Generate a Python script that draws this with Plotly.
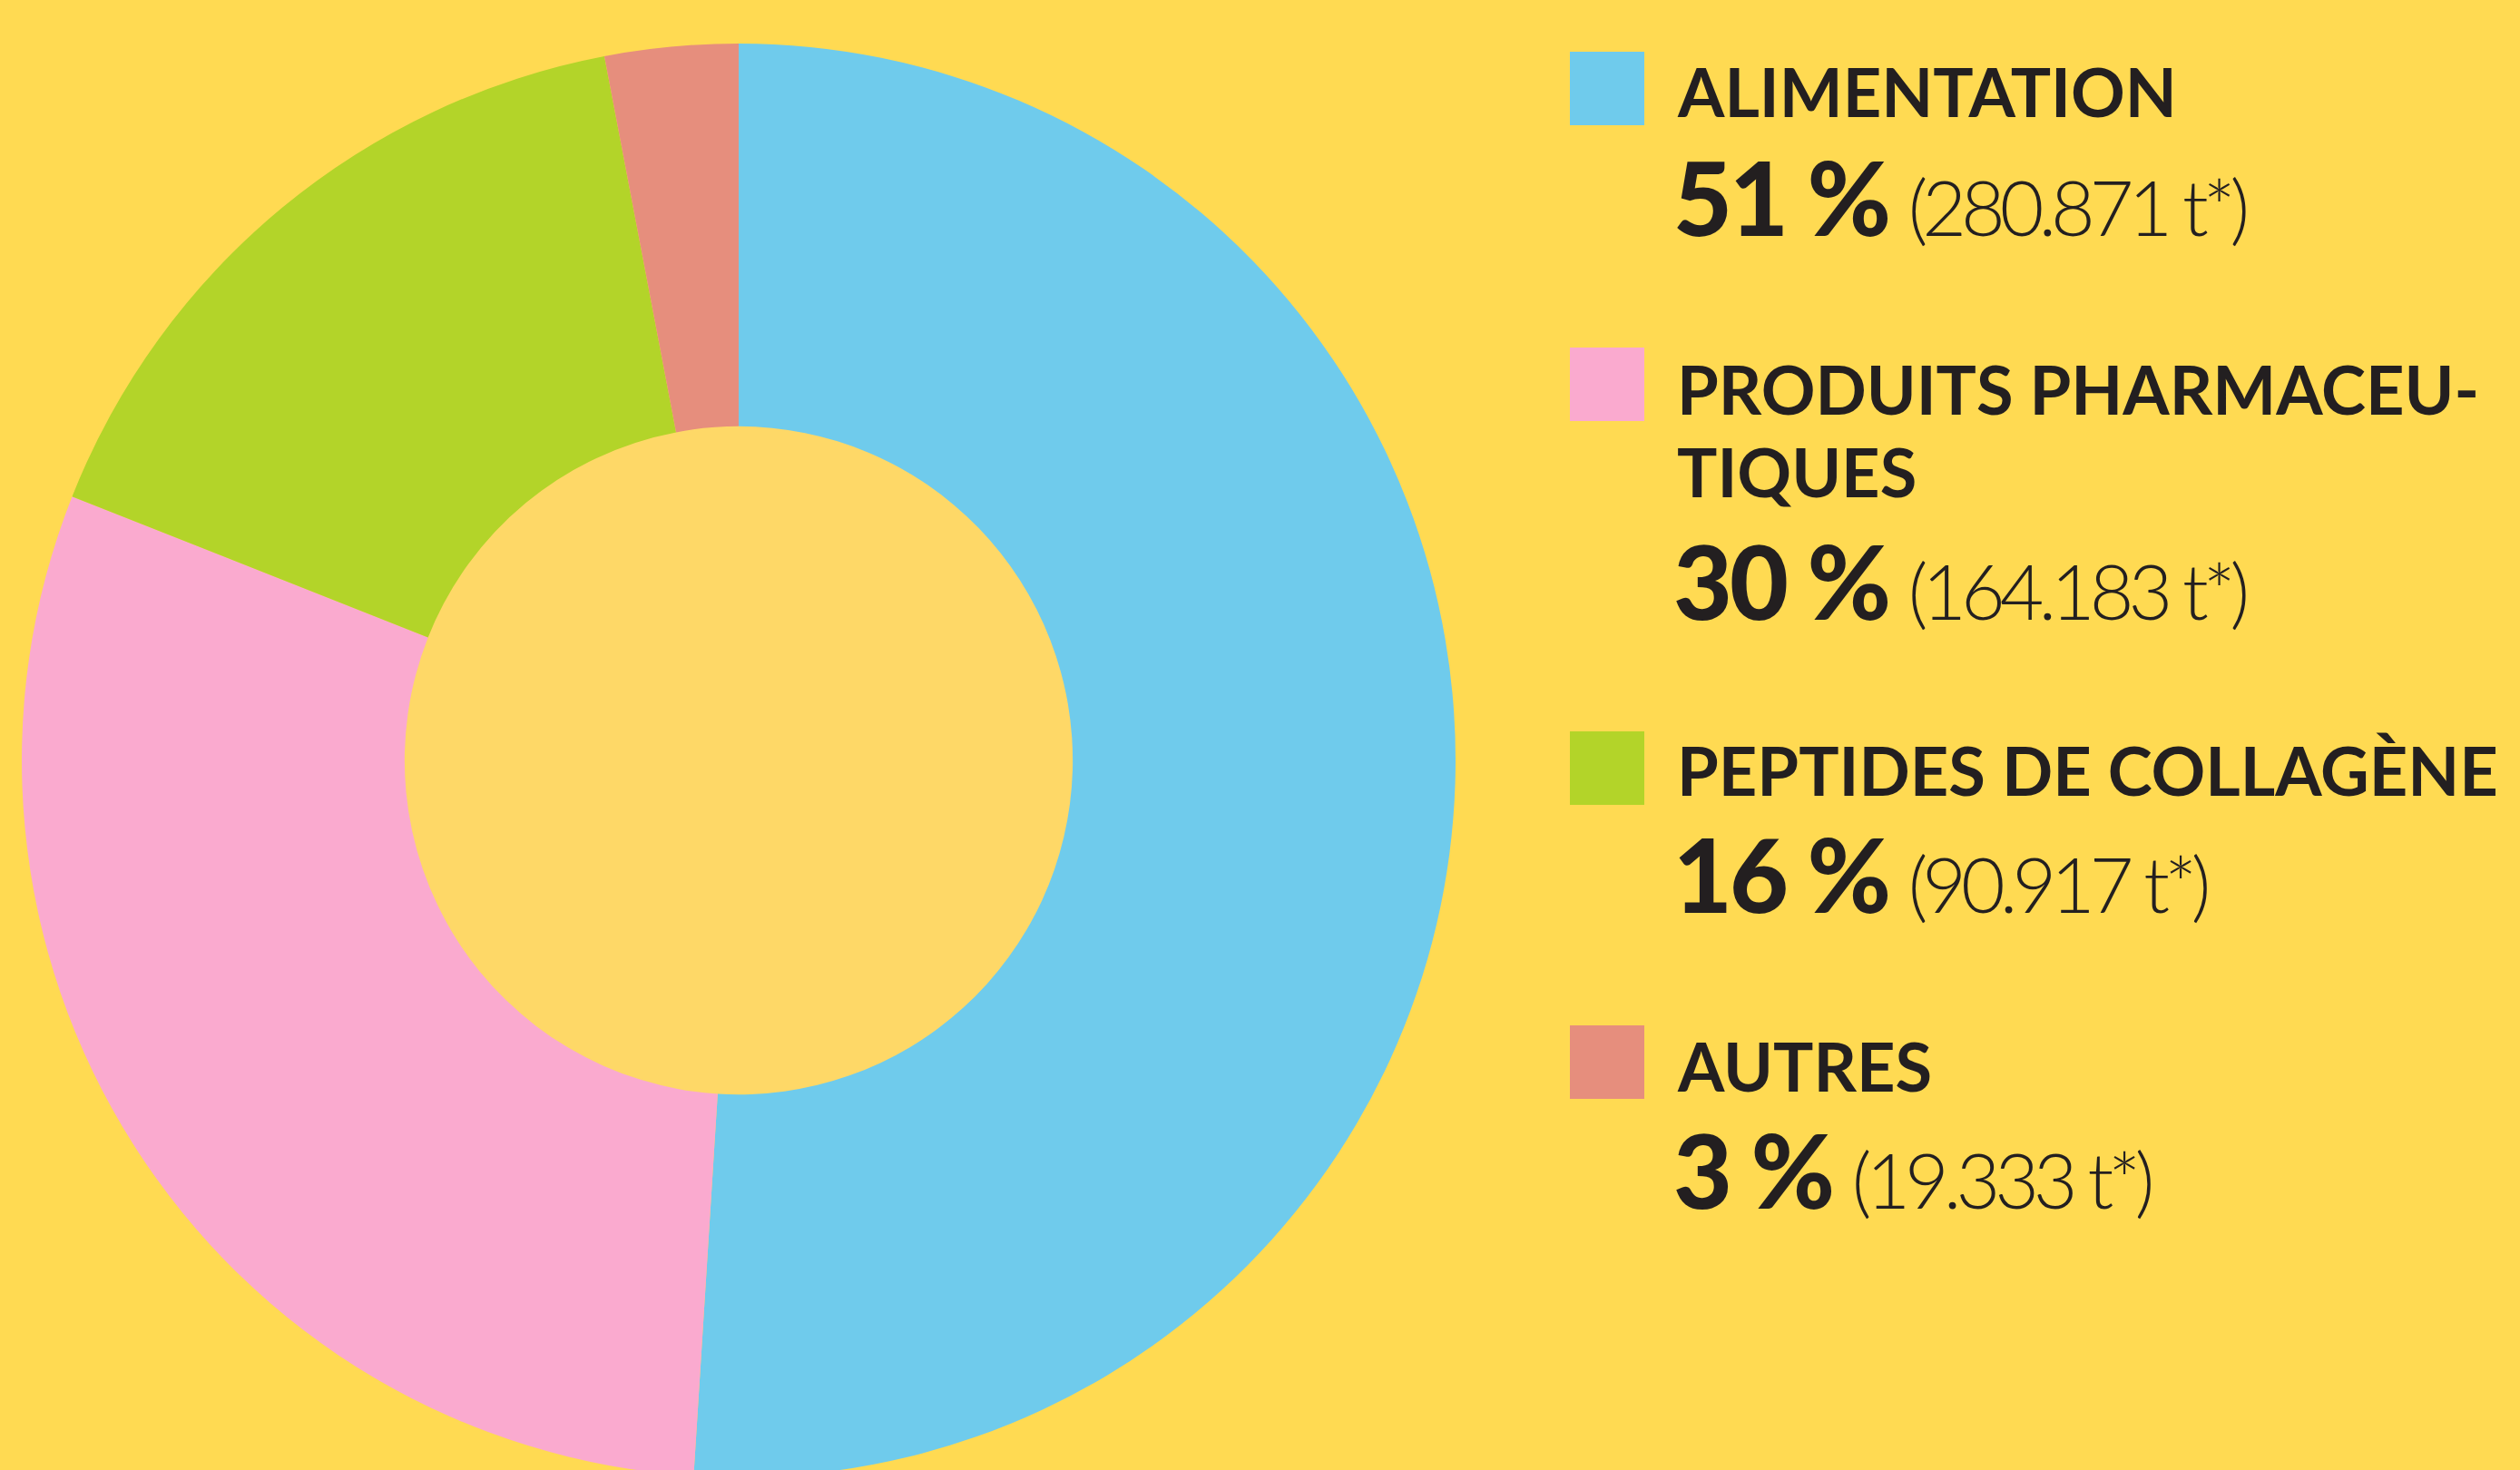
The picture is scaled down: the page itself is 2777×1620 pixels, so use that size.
import plotly.graph_objects as go

# ---- data ----
categories = ["ALIMENTATION", "PRODUITS PHARMACEUTIQUES", "PEPTIDES DE COLLAGÈNE", "AUTRES"]
legend_labels = ["ALIMENTATION", "PRODUITS PHARMACEU-<br>TIQUES", "PEPTIDES DE COLLAGÈNE", "AUTRES"]
shares = [51, 30, 16, 3]
tonnes_text = ["280.871", "164.183", "90.917", "19.333"]
percent_text = ["51 %", "30 %", "16 %", "3 %"]
colors = ["#6FCBEC", "#FAAACF", "#B3D429", "#E68E7D"]

W, H = 2777, 1640  # slightly taller than the 1620 window so the ring is clipped at the bottom
BG = "#FFDA52"
HOLE_BG = "#FED867"
TEXT = "#231F20"
FONT = "Lato"

# pie geometry (pixels from top-left)
cx, cy_top, R = 814, 838, 790
hole = 0.466
dom_x = [(cx - R) / W, (cx + R) / W]
dom_y = [(H - cy_top - R) / H, (H - cy_top + R) / H]

fig = go.Figure()
fig.add_trace(go.Pie(
    labels=categories, values=shares, sort=False, direction="clockwise",
    rotation=0, hole=hole, textinfo="none", hoverinfo="label+percent",
    marker=dict(colors=colors, line=dict(width=0)),
    domain=dict(x=dom_x, y=dom_y), showlegend=False,
))

shapes = []
# inner hole fill (slightly different yellow)
rh = R * hole + 3
shapes.append(dict(type="circle", xref="paper", yref="paper", layer="below",
                   x0=(cx - rh) / W, x1=(cx + rh) / W,
                   y0=(H - cy_top - rh) / H, y1=(H - cy_top + rh) / H,
                   fillcolor=HOLE_BG, line=dict(width=0)))

# legend layout (pixel positions from top)
sq_x0, sq_x1 = 1730, 1812
sq_tops = [57, 383, 806, 1130]
label_mid = [100, 428, 848, 1174]   # middle of the first label line
label_line_gap = 92
pct_mid = [216, 639, 962, 1288]
text_x = 1846

annotations = []
for i in range(len(categories)):
    t = sq_tops[i]
    shapes.append(dict(type="rect", xref="paper", yref="paper",
                       x0=sq_x0 / W, x1=sq_x1 / W,
                       y0=(H - t - 81) / H, y1=(H - t) / H,
                       fillcolor=colors[i], line=dict(width=0)))
    for j, line in enumerate(legend_labels[i].split("<br>")):
        annotations.append(dict(
            x=text_x / W, y=(H - label_mid[i] - j * label_line_gap) / H,
            xref="paper", yref="paper",
            xanchor="left", yanchor="middle", align="left", showarrow=False,
            text=f"<b>{line}</b>",
            font=dict(family=FONT, size=74, color=TEXT),
        ))
    annotations.append(dict(
        x=(text_x - 4) / W, y=(H - pct_mid[i]) / H, xref="paper", yref="paper",
        xanchor="left", yanchor="middle", align="left", showarrow=False,
        text=(f"<span style='font-size:112px;font-weight:900;letter-spacing:-3px'>{percent_text[i]}</span>"
              f" <span style='font-size:84px;font-weight:300;letter-spacing:-6px'>({tonnes_text[i]} t*)</span>"),
        font=dict(family=FONT, size=84, color=TEXT),
    ))

fig.update_layout(
    width=W, height=H, margin=dict(l=0, r=0, t=0, b=0),
    paper_bgcolor=BG, plot_bgcolor=BG,
    shapes=shapes, annotations=annotations,
)

fig.write_html("out.html",
               config={"displayModeBar": False},
               post_script="document.body.style.margin='0';document.body.style.overflow='hidden';")
